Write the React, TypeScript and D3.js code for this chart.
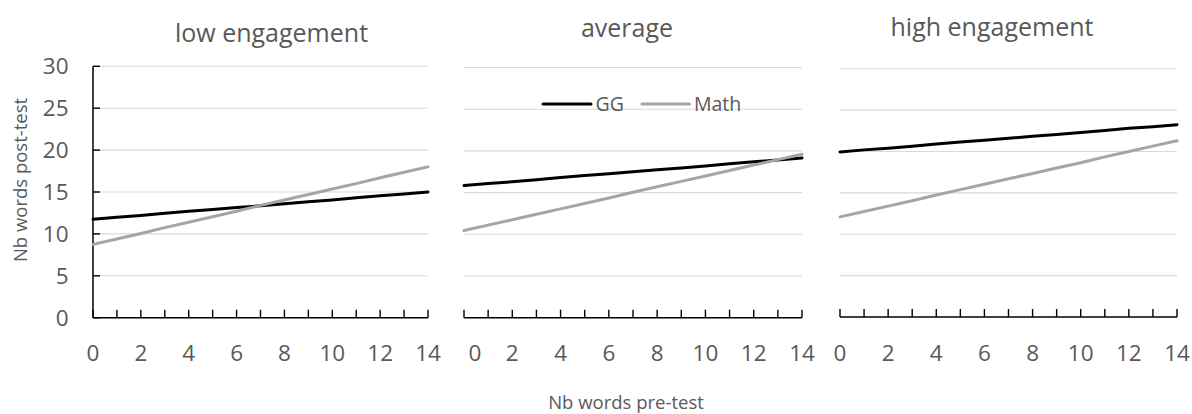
import React from "react";
import * as d3 from "d3";

// ---- data ----
const panelTitles = ["low engagement", "average", "high engagement"];
const seriesNames = ["GG", "Math"];
const preTest = [0, 1, 2, 3, 4, 5, 6, 7, 8, 9, 10, 11, 12, 13, 14];
const xTickLabels = [0, 2, 4, 6, 8, 10, 12, 14];
const yTickLabels = [0, 5, 10, 15, 20, 25, 30];

const lowGG = [11.75, 12.0, 12.2, 12.45, 12.7, 12.9, 13.15, 13.35, 13.6, 13.85, 14.05, 14.3, 14.55, 14.75, 15.0];
const lowMath = [8.75, 9.4, 10.05, 10.75, 11.4, 12.05, 12.7, 13.4, 14.05, 14.7, 15.35, 16.0, 16.7, 17.35, 18.0];
const avgGG = [15.85, 16.1, 16.3, 16.55, 16.8, 17.05, 17.25, 17.5, 17.75, 17.95, 18.2, 18.45, 18.7, 18.9, 19.15];
const avgMath = [10.45, 11.1, 11.75, 12.4, 13.05, 13.7, 14.35, 15.05, 15.7, 16.35, 17.0, 17.65, 18.3, 18.95, 19.6];
const highGG = [19.95, 20.2, 20.4, 20.65, 20.9, 21.15, 21.35, 21.6, 21.85, 22.05, 22.3, 22.55, 22.8, 23.0, 23.25];
const highMath = [12.1, 12.75, 13.4, 14.05, 14.75, 15.4, 16.05, 16.7, 17.35, 18.0, 18.65, 19.35, 20.0, 20.65, 21.3];

const panelData = [
  [lowGG, lowMath],
  [avgGG, avgMath],
  [highGG, highMath],
];

// ---- layout ----
const W = 1192;
const H = 414;
const FONT = "'Open Sans', 'Noto Sans', sans-serif";
const TEXT = "#595959";
const seriesColors = ["#000000", "#A5A5A5"];

const panelLayout = [
  { x0: 93, x1: 428, top: 66.3, bottom: 317.7, titleX: 271.5, titleY: 41.5, yAxis: true, firstLabelShift: 0 },
  { x0: 464, x1: 802, top: 67.5, bottom: 317.7, titleX: 627, titleY: 36.5, yAxis: false, firstLabelShift: 11 },
  { x0: 840, x1: 1177, top: 68.8, bottom: 317, titleX: 992, titleY: 36, yAxis: false, firstLabelShift: 0 },
];

function Panel({ idx }: { idx: number }) {
  const L = panelLayout[idx];
  const x = d3.scaleLinear().domain([0, 14]).range([L.x0, L.x1]);
  const y = d3.scaleLinear().domain([0, 30]).range([L.bottom, L.top]);
  const line = d3
    .line<number>()
    .x((_, i) => x(preTest[i]))
    .y((d) => y(d));
  const series = panelData[idx];
  return (
    <g>
      <text x={L.titleX} y={L.titleY} textAnchor="middle" fontSize={25} fill={TEXT} fontFamily={FONT}>
        {panelTitles[idx]}
      </text>
      {yTickLabels
        .filter((v) => v > 0)
        .map((v) => (
          <line key={"g" + v} x1={L.x0} x2={L.x1} y1={y(v)} y2={y(v)} stroke="#D9D9D9" strokeWidth={1.1} />
        ))}
      {L.yAxis &&
        yTickLabels.map((v) => (
          <g key={"yt" + v}>
            <line x1={L.x0} x2={L.x0 + 7} y1={y(v)} y2={y(v)} stroke="#000" strokeWidth={1.4} />
            <text x={68.5} y={y(v) + 8} textAnchor="end" fontSize={22.5} fill={TEXT} fontFamily={FONT}>
              {v}
            </text>
          </g>
        ))}
      {L.yAxis && <line x1={L.x0} x2={L.x0} y1={y(30)} y2={y(0)} stroke="#000" strokeWidth={1.5} />}
      {preTest.map((v) => (
        <line key={"xt" + v} x1={x(v)} x2={x(v)} y1={y(0)} y2={y(0) - 8} stroke="#000" strokeWidth={1.4} />
      ))}
      <line x1={L.x0} x2={L.x1} y1={y(0)} y2={y(0)} stroke="#000" strokeWidth={1.6} />
      {xTickLabels.map((v, i) => (
        <text
          key={"xl" + v}
          x={x(v) + (i === 0 ? L.firstLabelShift : 0)}
          y={360.5}
          textAnchor="middle"
          fontSize={22.5}
          fill={TEXT}
          fontFamily={FONT}
        >
          {v}
        </text>
      ))}
      {series.map((s, si) => (
        <path
          key={"s" + si}
          d={line(s) || ""}
          fill="none"
          stroke={seriesColors[si]}
          strokeWidth={3}
          strokeLinejoin="round"
          strokeLinecap="round"
        />
      ))}
    </g>
  );
}

const legendLayout = [
  { lx0: 543, lx1: 591, tx: 595.5 },
  { lx0: 642, lx1: 689.5, tx: 694 },
];

export default function App() {
  return (
    <svg
      width={W}
      height={H}
      style={{ position: "absolute", left: 0, top: 0, background: "#fff" }}
      fontFamily={FONT}
    >
      <rect width={W} height={H} fill="#fff" />
      {panelTitles.map((_, i) => (
        <Panel key={i} idx={i} />
      ))}
      {seriesNames.map((n, i) => (
        <g key={n}>
          <line
            x1={legendLayout[i].lx0}
            x2={legendLayout[i].lx1}
            y1={104}
            y2={104}
            stroke={seriesColors[i]}
            strokeWidth={3}
            strokeLinecap="round"
          />
          <text x={legendLayout[i].tx} y={110.5} fontSize={19.5} fill={TEXT} fontFamily={FONT}>
            {n}
          </text>
        </g>
      ))}
      <text
        transform="translate(27,180) rotate(-90)"
        textAnchor="middle"
        fontSize={18.5}
        fill={TEXT}
        fontFamily={FONT}
      >
        Nb words post-test
      </text>
      <text x={626} y={409} textAnchor="middle" fontSize={18.5} fill={TEXT} fontFamily={FONT}>
        Nb words pre-test
      </text>
    </svg>
  );
}
